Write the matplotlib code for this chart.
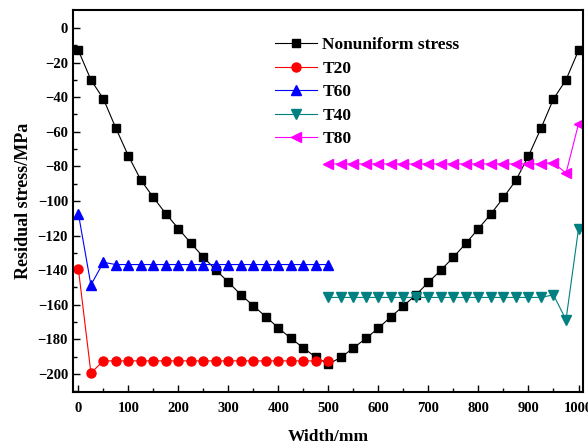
import numpy as np
import matplotlib.pyplot as plt

# x positions in mm
width_full = np.arange(0, 1001, 25)
width_left = np.arange(0, 501, 25)
width_right = np.arange(500, 1001, 25)

nonuniform = [-13, -30, -41, -58, -74, -88, -98, -107.5, -116, -124.5, -132.5,
              -140, -147, -154.3, -160.7, -167, -173.5, -179.5, -185, -190.5, -194.3,
              -190.5, -185, -179.5, -173.5, -167, -160.7, -154.3, -147, -140, -132.5,
              -124.5, -116, -107.5, -98, -88, -74, -58, -41, -30, -13]
t20 = [-139.5, -199.5] + [-192.5] * 19
t60 = [-107.5, -148.6, -135.5] + [-136.8] * 18
t40 = [-155.8] * 18 + [-154.3, -168.8, -116.2]
t80 = [-78.6] * 18 + [-77.8, -84, -55.5]

plt.rcParams['font.family'] = 'Liberation Serif'
plt.rcParams['font.weight'] = 'bold'
plt.rcParams['axes.labelweight'] = 'bold'

fig = plt.figure(figsize=(5.88, 4.48), dpi=100)
ax = fig.add_axes([0.124, 0.125, 0.8675, 0.853])

lw = 0.8
ax.plot(width_full, nonuniform, color='k', marker='s', ms=5.5, lw=lw, label='Nonuniform stress')
ax.plot(width_left, t20, color='red', marker='o', ms=6.5, lw=lw, label='T20')
ax.plot(width_left, t60, color='blue', marker='^', ms=6.5, lw=lw, label='T60')
ax.plot(width_right, t40, color='#008080', marker='v', ms=6.5, lw=lw, label='T40')
ax.plot(width_right, t80, color='magenta', marker='<', ms=6.5, lw=lw, label='T80')

ax.set_xlim(-11, 1009)
ax.set_ylim(-210.5, 10.5)
ax.set_xticks(np.arange(0, 1001, 100))
ax.set_xticks(np.arange(50, 1001, 100), minor=True)
ax.set_yticks(np.arange(-200, 1, 20))
ax.set_yticks(np.arange(-210, 10, 20), minor=True)
ax.tick_params(which='both', direction='in', labelsize=10.5, width=1)
ax.tick_params(axis='x', pad=7)
ax.tick_params(which='major', length=5)
ax.tick_params(which='minor', length=3)
for s in ax.spines.values():
    s.set_linewidth(1.5)

ax.set_xlabel('Width/mm', fontsize=12.5, labelpad=10)
ax.set_ylabel('Residual stress/MPa', fontsize=13, labelpad=4)

ax.legend(loc='upper left', bbox_to_anchor=(0.373, 0.96), frameon=False, fontsize=12.5,
          handlelength=2.4, handletextpad=0.3, labelspacing=0.42, borderpad=0.2)

fig.savefig('out.png', dpi=100)
